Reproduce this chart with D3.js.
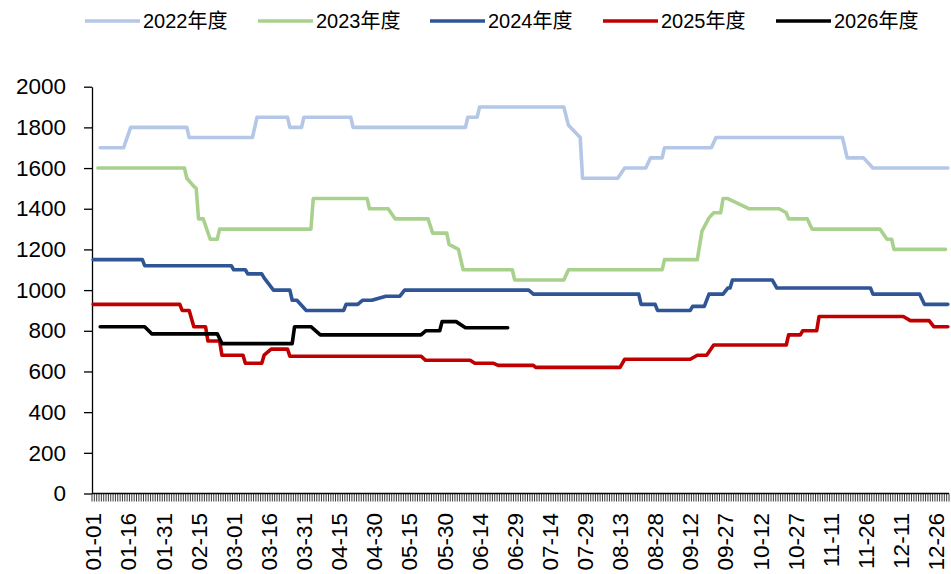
<!DOCTYPE html>
<html>
<head>
<meta charset="utf-8">
<script src="https://cdn.jsdelivr.net/npm/d3@7"></script>
<style>
  body { margin: 0; background: #fff; }
  text { font-family: "Liberation Sans", Arial, "Noto Sans CJK SC", sans-serif; fill: #000; }
</style>
</head>
<body>
<div id="chart"></div>
<script>
// category axis: every day of a (leap) year, labels every 15th day
const fmt = d3.timeFormat("%m-%d");
const categories = d3.timeDay.range(new Date(2024, 0, 1), new Date(2025, 0, 1)).map(fmt);
const tickLabels = categories.filter((d, i) => i % 15 === 0);

const yTicks = [0, 200, 400, 600, 800, 1000, 1200, 1400, 1600, 1800, 2000];

const seriesNames = ["2022年度", "2023年度", "2024年度", "2025年度", "2026年度"];
const seriesColors = ["#B4C7E7", "#A9D18E", "#2F5597", "#C00000", "#000000"];

// [day, value] at each change of the series
const s2022 = [
  ["01-04", 1700], ["01-14", 1700], ["01-17", 1800], ["02-10", 1800], ["02-11", 1750],
  ["03-09", 1750], ["03-11", 1850], ["03-24", 1850], ["03-25", 1800], ["03-30", 1800],
  ["03-31", 1850], ["04-20", 1850], ["04-21", 1800], ["06-08", 1800], ["06-09", 1850],
  ["06-13", 1850], ["06-14", 1900], ["07-20", 1900], ["07-22", 1810], ["07-27", 1750],
  ["07-28", 1550], ["08-12", 1550], ["08-15", 1600], ["08-24", 1600], ["08-26", 1650],
  ["08-31", 1650], ["09-01", 1700], ["09-21", 1700], ["09-23", 1750], ["11-16", 1750],
  ["11-18", 1650], ["11-25", 1650], ["11-29", 1600], ["12-31", 1600]
];
const s2023 = [
  ["01-03", 1600], ["02-09", 1600], ["02-10", 1550], ["02-13", 1510], ["02-14", 1500],
  ["02-15", 1350], ["02-17", 1350], ["02-20", 1250], ["02-23", 1250], ["02-24", 1300],
  ["04-03", 1300], ["04-04", 1450], ["04-27", 1450], ["04-28", 1400], ["05-06", 1400],
  ["05-09", 1350], ["05-23", 1350], ["05-25", 1280], ["05-31", 1280], ["06-01", 1225],
  ["06-05", 1200], ["06-07", 1100], ["06-28", 1100], ["06-29", 1050], ["07-20", 1050],
  ["07-22", 1100], ["08-31", 1100], ["09-01", 1150], ["09-15", 1150], ["09-17", 1290],
  ["09-20", 1355], ["09-22", 1380], ["09-25", 1380], ["09-26", 1450], ["09-28", 1450],
  ["10-07", 1400], ["10-20", 1400], ["10-23", 1380], ["10-24", 1350], ["11-01", 1350],
  ["11-03", 1300], ["12-02", 1300], ["12-05", 1250], ["12-07", 1250], ["12-08", 1200],
  ["12-30", 1200]
];
const s2024 = [
  ["01-01", 1150], ["01-22", 1150], ["01-23", 1120], ["02-29", 1120], ["03-01", 1100],
  ["03-06", 1100], ["03-07", 1080], ["03-13", 1080], ["03-14", 1060], ["03-18", 1000],
  ["03-25", 1000], ["03-26", 950], ["03-28", 950], ["04-01", 900], ["04-17", 900],
  ["04-18", 930], ["04-23", 930], ["04-25", 950], ["04-29", 950], ["05-05", 970],
  ["05-11", 970], ["05-13", 1000], ["07-05", 1000], ["07-07", 980], ["08-21", 980],
  ["08-22", 930], ["08-28", 930], ["08-29", 900], ["09-12", 900], ["09-13", 920],
  ["09-18", 920], ["09-20", 980], ["09-26", 980], ["09-28", 1010], ["09-29", 1010],
  ["09-30", 1050], ["10-17", 1050], ["10-19", 1010], ["11-28", 1010], ["11-29", 980],
  ["12-19", 980], ["12-21", 930], ["12-31", 930]
];
const s2025 = [
  ["01-01", 930], ["02-07", 930], ["02-08", 900], ["02-11", 900], ["02-13", 820],
  ["02-18", 820], ["02-19", 750], ["02-24", 750], ["02-25", 680], ["03-05", 680],
  ["03-06", 640], ["03-13", 640], ["03-14", 680], ["03-17", 710], ["03-24", 710],
  ["03-25", 675], ["05-20", 675], ["05-22", 655], ["06-10", 655], ["06-12", 640],
  ["06-20", 640], ["06-22", 630], ["07-07", 630], ["07-08", 620], ["08-13", 620],
  ["08-15", 660], ["09-12", 660], ["09-15", 680], ["09-19", 680], ["09-22", 730],
  ["10-23", 730], ["10-24", 780], ["10-29", 780], ["10-30", 800], ["11-05", 800],
  ["11-06", 870], ["12-12", 870], ["12-15", 850], ["12-23", 850], ["12-25", 820],
  ["12-31", 820]
];
const s2026 = [
  ["01-04", 820], ["01-23", 820], ["01-26", 785], ["02-23", 785], ["02-25", 737],
  ["03-26", 737], ["03-27", 820], ["04-03", 820], ["04-07", 780], ["05-20", 780],
  ["05-22", 800], ["05-28", 800], ["05-29", 845], ["06-04", 845], ["06-08", 815],
  ["06-26", 815]
];
const seriesData = [s2022, s2023, s2024, s2025, s2026];

const width = 951, height = 574;
const plot = { left: 92, right: 949, top: 86.7, bottom: 493.5 };

const svg = d3.select("#chart").append("svg")
    .attr("width", width)
    .attr("height", height);

const x = d3.scaleBand().domain(categories).range([plot.left, plot.right]).padding(0);
const y = d3.scaleLinear().domain([0, 2000]).range([plot.bottom, plot.top]);
const cx = d => x(d) + x.bandwidth() / 2;

// y axis
const yAxis = svg.append("g")
    .attr("transform", `translate(${plot.left},0)`)
    .call(d3.axisLeft(y).tickValues(yTicks).tickFormat(d3.format("d"))
        .tickSize(8).tickPadding(18).tickSizeOuter(0));
yAxis.select(".domain").attr("stroke", "#000").attr("stroke-width", 1.3);
yAxis.selectAll(".tick line").attr("stroke", "#000").attr("stroke-width", 1.3);
yAxis.selectAll("text").style("font-size", "22.5px").attr("fill", "#000");

// x axis: tick marks between every category, labels every 15 days
const xAxis = svg.append("g").attr("transform", `translate(0,${plot.bottom})`);
xAxis.selectAll("line.tk")
    .data(categories.concat([null]))
    .join("line")
    .attr("class", "tk")
    .attr("x1", d => d === null ? plot.right : x(d))
    .attr("x2", d => d === null ? plot.right : x(d))
    .attr("y1", 0).attr("y2", 8)
    .attr("stroke", "#222").attr("stroke-width", 0.9);
xAxis.append("line")
    .attr("x1", plot.left).attr("x2", plot.right)
    .attr("y1", 0).attr("y2", 0)
    .attr("stroke", "#000").attr("stroke-width", 1.3);
xAxis.selectAll("text.lbl")
    .data(tickLabels)
    .join("text")
    .attr("class", "lbl")
    .attr("transform", d => `translate(${cx(d)},19.5) rotate(-90)`)
    .attr("dy", "0.36em")
    .style("text-anchor", "end")
    .style("font-size", "22.5px")
    .text(d => d);

// series lines
const line = d3.line()
    .x(d => cx(d[0]))
    .y(d => y(d[1]));

seriesData.forEach((s, i) => {
    svg.append("path")
        .datum(s)
        .attr("fill", "none")
        .attr("stroke", seriesColors[i])
        .attr("stroke-width", 3.6)
        .attr("stroke-linejoin", "round")
        .attr("stroke-linecap", "round")
        .attr("d", line);
});

// legend
const legendX = [85, 258, 430, 603, 776];
const legend = svg.append("g");
seriesNames.forEach((name, i) => {
    legend.append("line")
        .attr("x1", legendX[i]).attr("x2", legendX[i] + 55)
        .attr("y1", 21).attr("y2", 21)
        .attr("stroke", seriesColors[i])
        .attr("stroke-width", 3.6);
    legend.append("text")
        .attr("x", legendX[i] + 58)
        .attr("y", 21)
        .attr("dy", "0.35em")
        .style("font-size", "20px")
        .text(name);
});
</script>
</body>
</html>
